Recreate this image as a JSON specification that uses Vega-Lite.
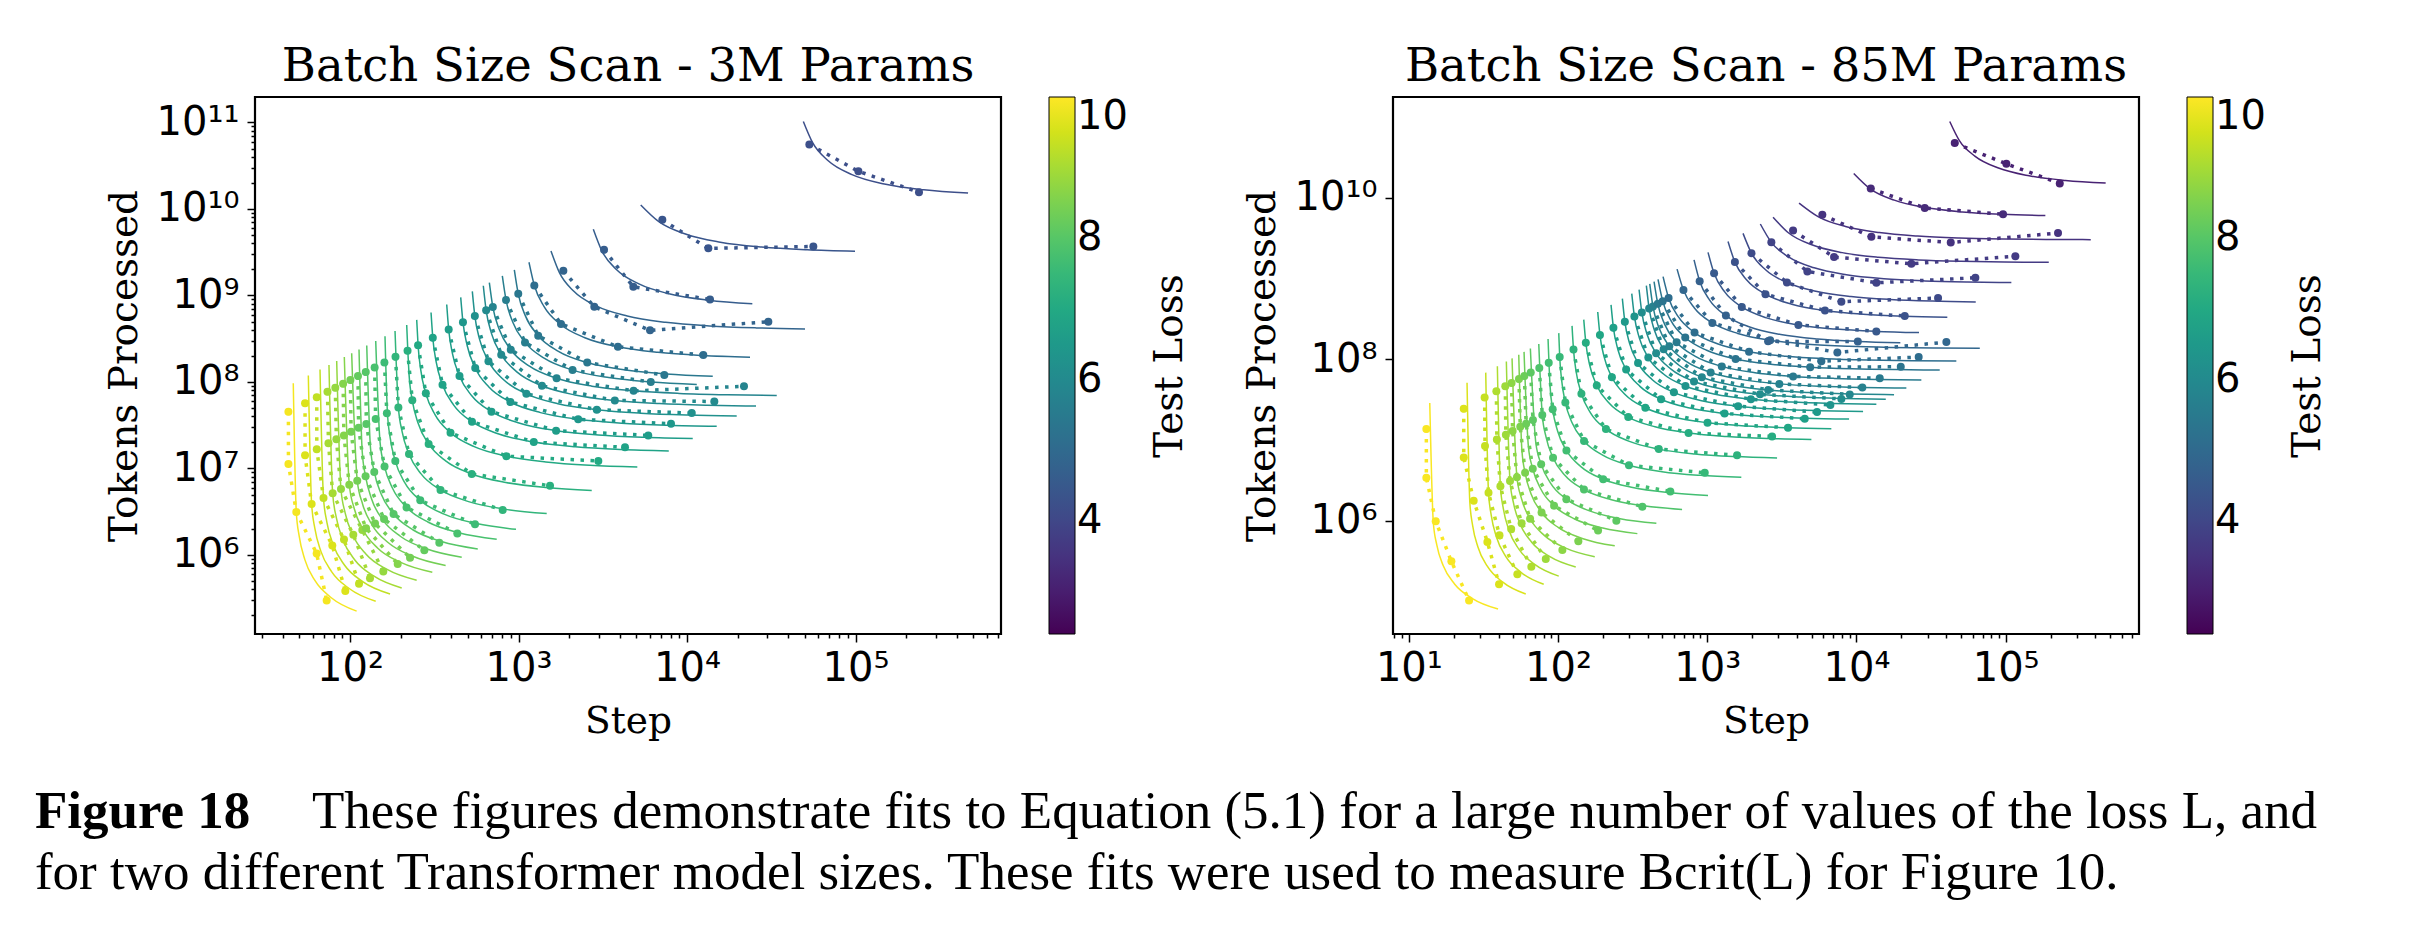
{
 "$schema": "https://vega.github.io/schema/vega-lite/v6.json",
 "background": "white",
 "padding": {"left": 34, "top": 42, "right": 10, "bottom": 10},
 "config": {
  "view": {"stroke": "black", "strokeWidth": 2.2},
  "title": {"font": "DejaVu Serif", "fontSize": 46.5, "fontWeight": "normal", "color": "black", "offset": 7},
  "axis": {"labelFont": "DejaVu Sans", "labelFontSize": 40, "labelColor": "black", "titleFont": "DejaVu Serif", "titleFontSize": 37.5, "titleFontWeight": "normal", "titleColor": "black", "grid": false, "domain": false, "tickColor": "black", "tickWidth": 1.5, "labelOverlap": false, "labelFlush": false, "labelBound": false},
  "legend": {"orient": "none", "legendX": 794, "legendY": 0, "direction": "vertical", "gradientLength": 537, "gradientThickness": 26, "gradientStrokeColor": "black", "gradientStrokeWidth": 1, "labelFont": "DejaVu Sans", "labelFontSize": 40, "labelColor": "black", "labelOffset": 16, "labelBaseline": "middle"}
 },
 "datasets": {
  "fitL": [
   {"k":1,"l":9.9,"s":46.06,"e":9.66e7},{"k":1,"l":9.9,"s":47.99,"e":3.145e6},{"k":1,"l":9.9,"s":49.97,"e":1.637e6},{"k":1,"l":9.9,"s":53.94,"e":8.84e5},{"k":1,"l":9.9,"s":61.88,"e":5.07e5},{"k":1,"l":9.9,"s":77.76,"e":3.185e5},{"k":1,"l":9.9,"s":109.5,"e":2.243e5},
   {"k":2,"l":9.6,"s":56.58,"e":1.187e8},{"k":2,"l":9.6,"s":59.18,"e":3.878e6},{"k":2,"l":9.6,"s":61.85,"e":2.027e6},{"k":2,"l":9.6,"s":67.2,"e":1.101e6},{"k":2,"l":9.6,"s":77.91,"e":6.382e5},{"k":2,"l":9.6,"s":99.32,"e":4.068e5},{"k":2,"l":9.6,"s":142.1,"e":2.911e5},
   {"k":3,"l":9.3,"s":66.37,"e":1.392e8},{"k":3,"l":9.3,"s":69.6,"e":4.561e6},{"k":3,"l":9.3,"s":72.92,"e":2.389e6},{"k":3,"l":9.3,"s":79.58,"e":1.304e6},{"k":3,"l":9.3,"s":92.89,"e":7.61e5},{"k":3,"l":9.3,"s":119.5,"e":4.895e5},{"k":3,"l":9.3,"s":172.8,"e":3.539e5},
   {"k":4,"l":9.0,"s":75.02,"e":1.573e8},{"k":4,"l":9.0,"s":78.89,"e":5.17e6},{"k":4,"l":9.0,"s":82.88,"e":2.716e6},{"k":4,"l":9.0,"s":90.87,"e":1.489e6},{"k":4,"l":9.0,"s":106.8,"e":8.751e5},{"k":4,"l":9.0,"s":138.8,"e":5.684e5},{"k":4,"l":9.0,"s":202.7,"e":4.151e5},
   {"k":5,"l":8.8,"s":83.36,"e":1.748e8},{"k":5,"l":8.8,"s":88.37,"e":5.792e6},{"k":5,"l":8.8,"s":93.55,"e":3.065e6},{"k":5,"l":8.8,"s":103.9,"e":1.702e6},{"k":5,"l":8.8,"s":124.6,"e":1.021e6},{"k":5,"l":8.8,"s":166,"e":6.799e5},{"k":5,"l":8.8,"s":248.7,"e":5.093e5},
   {"k":6,"l":8.6,"s":92.51,"e":1.94e8},{"k":6,"l":8.6,"s":99.04,"e":6.491e6},{"k":6,"l":8.6,"s":105.8,"e":3.467e6},{"k":6,"l":8.6,"s":119.3,"e":1.955e6},{"k":6,"l":8.6,"s":146.2,"e":1.198e6},{"k":6,"l":8.6,"s":200.1,"e":8.196e5},{"k":6,"l":8.6,"s":307.9,"e":6.306e5},
   {"k":7,"l":8.4,"s":102.3,"e":2.145e8},{"k":7,"l":8.4,"s":110.4,"e":7.235e6},{"k":7,"l":8.4,"s":118.7,"e":3.89e6},{"k":7,"l":8.4,"s":135.4,"e":2.218e6},{"k":7,"l":8.4,"s":168.9,"e":1.384e6},{"k":7,"l":8.4,"s":235.7,"e":9.654e5},{"k":7,"l":8.4,"s":369.4,"e":7.565e5},
   {"k":8,"l":8.2,"s":113.1,"e":2.372e8},{"k":8,"l":8.2,"s":118.2,"e":1.549e7},{"k":8,"l":8.2,"s":123.7,"e":8.107e6},{"k":8,"l":8.2,"s":134.5,"e":4.407e6},{"k":8,"l":8.2,"s":156.2,"e":2.559e6},{"k":8,"l":8.2,"s":199.7,"e":1.636e6},{"k":8,"l":8.2,"s":286.6,"e":1.174e6},{"k":8,"l":8.2,"s":460.3,"e":9.427e5},
   {"k":9,"l":8.0,"s":125.7,"e":2.636e8},{"k":9,"l":8.0,"s":132.3,"e":1.734e7},{"k":9,"l":8.0,"s":139.3,"e":9.129e6},{"k":9,"l":8.0,"s":153.3,"e":5.023e6},{"k":9,"l":8.0,"s":181.3,"e":2.97e6},{"k":9,"l":8.0,"s":237.3,"e":1.944e6},{"k":9,"l":8.0,"s":349.2,"e":1.43e6},{"k":9,"l":8.0,"s":573.1,"e":1.174e6},
   {"k":10,"l":7.8,"s":142.1,"e":2.98e8},{"k":10,"l":7.8,"s":150.9,"e":1.978e7},{"k":10,"l":7.8,"s":160.3,"e":1.051e7},{"k":10,"l":7.8,"s":179.1,"e":5.869e6},{"k":10,"l":7.8,"s":216.6,"e":3.549e6},{"k":10,"l":7.8,"s":291.7,"e":2.39e6},{"k":10,"l":7.8,"s":441.9,"e":1.81e6},{"k":10,"l":7.8,"s":742.4,"e":1.52e6},
   {"k":11,"l":7.6,"s":161.3,"e":3.383e8},{"k":11,"l":7.6,"s":166.8,"e":4.373e7},{"k":11,"l":7.6,"s":173.1,"e":2.269e7},{"k":11,"l":7.6,"s":185.7,"e":1.217e7},{"k":11,"l":7.6,"s":210.9,"e":6.911e6},{"k":11,"l":7.6,"s":261.2,"e":4.279e6},{"k":11,"l":7.6,"s":361.9,"e":2.965e6},{"k":11,"l":7.6,"s":563.3,"e":2.307e6},{"k":11,"l":7.6,"s":966.1,"e":1.979e6},
   {"k":12,"l":7.4,"s":185,"e":3.88e8},{"k":12,"l":7.4,"s":193.7,"e":5.078e7},{"k":12,"l":7.4,"s":203.8,"e":2.671e7},{"k":12,"l":7.4,"s":223.9,"e":1.467e7},{"k":12,"l":7.4,"s":264.1,"e":8.654e6},{"k":12,"l":7.4,"s":344.5,"e":5.645e6},{"k":12,"l":7.4,"s":505.4,"e":4.14e6},{"k":12,"l":7.4,"s":827.1,"e":3.388e6},{"k":12,"l":7.4,"s":1470,"e":3.011e6},
   {"k":13,"l":7.2,"s":217,"e":4.551e8},{"k":13,"l":7.2,"s":224.4,"e":1.177e8},{"k":13,"l":7.2,"s":234.2,"e":6.139e7},{"k":13,"l":7.2,"s":253.7,"e":3.325e7},{"k":13,"l":7.2,"s":292.9,"e":1.92e7},{"k":13,"l":7.2,"s":371.2,"e":1.216e7},{"k":13,"l":7.2,"s":527.7,"e":8.646e6},{"k":13,"l":7.2,"s":840.8,"e":6.888e6},{"k":13,"l":7.2,"s":1467,"e":6.009e6},{"k":13,"l":7.2,"s":2720,"e":5.57e6},
   {"k":14,"l":7.0,"s":248.8,"e":5.218e8},{"k":14,"l":7.0,"s":253.5,"e":2.658e8},{"k":14,"l":7.0,"s":262.9,"e":1.378e8},{"k":14,"l":7.0,"s":281.8,"e":7.387e7},{"k":14,"l":7.0,"s":319.5,"e":4.188e7},{"k":14,"l":7.0,"s":394.9,"e":2.588e7},{"k":14,"l":7.0,"s":545.8,"e":1.788e7},{"k":14,"l":7.0,"s":847.4,"e":1.388e7},{"k":14,"l":7.0,"s":1451,"e":1.189e7},{"k":14,"l":7.0,"s":2657,"e":1.088e7},{"k":14,"l":7.0,"s":5071,"e":1.039e7},
   {"k":15,"l":6.8,"s":302.6,"e":6.346e8},{"k":15,"l":6.8,"s":309.9,"e":3.25e8},{"k":15,"l":6.8,"s":324.6,"e":1.702e8},{"k":15,"l":6.8,"s":353.9,"e":9.277e7},{"k":15,"l":6.8,"s":412.5,"e":5.407e7},{"k":15,"l":6.8,"s":529.6,"e":3.471e7},{"k":15,"l":6.8,"s":763.9,"e":2.503e7},{"k":15,"l":6.8,"s":1232,"e":2.019e7},{"k":15,"l":6.8,"s":2170,"e":1.778e7},{"k":15,"l":6.8,"s":4044,"e":1.656e7},{"k":15,"l":6.8,"s":7793,"e":1.596e7},
   {"k":16,"l":6.6,"s":374.9,"e":7.862e8},{"k":16,"l":6.6,"s":385.1,"e":4.038e8},{"k":16,"l":6.6,"s":405.5,"e":2.126e8},{"k":16,"l":6.6,"s":446.3,"e":1.17e8},{"k":16,"l":6.6,"s":528,"e":6.921e7},{"k":16,"l":6.6,"s":691.2,"e":4.53e7},{"k":16,"l":6.6,"s":1018,"e":3.335e7},{"k":16,"l":6.6,"s":1671,"e":2.737e7},{"k":16,"l":6.6,"s":2977,"e":2.438e7},{"k":16,"l":6.6,"s":5589,"e":2.289e7},{"k":16,"l":6.6,"s":10812,"e":2.214e7},
   {"k":17,"l":6.4,"s":453.9,"e":9.519e8},{"k":17,"l":6.4,"s":468.1,"e":4.909e8},{"k":17,"l":6.4,"s":496.6,"e":2.604e8},{"k":17,"l":6.4,"s":553.5,"e":1.451e8},{"k":17,"l":6.4,"s":667.2,"e":8.745e7},{"k":17,"l":6.4,"s":894.8,"e":5.864e7},{"k":17,"l":6.4,"s":1350,"e":4.423e7},{"k":17,"l":6.4,"s":2260,"e":3.703e7},{"k":17,"l":6.4,"s":4080,"e":3.343e7},{"k":17,"l":6.4,"s":7721,"e":3.163e7},{"k":17,"l":6.4,"s":15003,"e":3.073e7},
   {"k":18,"l":6.2,"s":531.9,"e":1.115e9},{"k":18,"l":6.2,"s":550.6,"e":5.774e8},{"k":18,"l":6.2,"s":588.1,"e":3.083e8},{"k":18,"l":6.2,"s":663.2,"e":1.738e8},{"k":18,"l":6.2,"s":813.3,"e":1.066e8},{"k":18,"l":6.2,"s":1113,"e":7.296e7},{"k":18,"l":6.2,"s":1714,"e":5.615e7},{"k":18,"l":6.2,"s":2914,"e":4.775e7},{"k":18,"l":6.2,"s":5315,"e":4.354e7},{"k":18,"l":6.2,"s":10117,"e":4.144e7},{"k":18,"l":6.2,"s":19722,"e":4.039e7},
   {"k":19,"l":6.0,"s":618.1,"e":1.296e9},{"k":19,"l":6.0,"s":642.6,"e":6.738e8},{"k":19,"l":6.0,"s":691.6,"e":3.626e8},{"k":19,"l":6.0,"s":789.6,"e":2.07e8},{"k":19,"l":6.0,"s":985.5,"e":1.292e8},{"k":19,"l":6.0,"s":1377,"e":9.028e7},{"k":19,"l":6.0,"s":2161,"e":7.083e7},{"k":19,"l":6.0,"s":3729,"e":6.109e7},{"k":19,"l":6.0,"s":6864,"e":5.623e7},{"k":19,"l":6.0,"s":13135,"e":5.38e7},{"k":19,"l":6.0,"s":25677,"e":5.259e7},
   {"k":20,"l":5.8,"s":671.2,"e":1.408e9},{"k":20,"l":5.8,"s":703.8,"e":7.38e8},{"k":20,"l":5.8,"s":769.1,"e":4.032e8},{"k":20,"l":5.8,"s":899.7,"e":2.359e8},{"k":20,"l":5.8,"s":1161,"e":1.522e8},{"k":20,"l":5.8,"s":1683,"e":1.103e8},{"k":20,"l":5.8,"s":2728,"e":8.939e7},{"k":20,"l":5.8,"s":4818,"e":7.894e7},{"k":20,"l":5.8,"s":8998,"e":7.371e7},{"k":20,"l":5.8,"s":17357,"e":7.109e7},{"k":20,"l":5.8,"s":34076,"e":6.979e7},
   {"k":21,"l":5.6,"s":801.5,"e":1.681e9},{"k":21,"l":5.6,"s":843.3,"e":8.843e8},{"k":21,"l":5.6,"s":926.6,"e":4.858e8},{"k":21,"l":5.6,"s":1093,"e":2.866e8},{"k":21,"l":5.6,"s":1427,"e":1.87e8},{"k":21,"l":5.6,"s":2093,"e":1.372e8},{"k":21,"l":5.6,"s":3427,"e":1.123e8},{"k":21,"l":5.6,"s":6094,"e":9.984e7},{"k":21,"l":5.6,"s":11427,"e":9.361e7},
   {"k":22,"l":5.4,"s":944.4,"e":1.981e9},{"k":22,"l":5.4,"s":996.5,"e":1.045e9},{"k":22,"l":5.4,"s":1100.5,"e":5.77e8},{"k":22,"l":5.4,"s":1308.7,"e":3.431e8},{"k":22,"l":5.4,"s":1725,"e":2.261e8},{"k":22,"l":5.4,"s":2557.6,"e":1.676e8},{"k":22,"l":5.4,"s":4223,"e":1.384e8},{"k":22,"l":5.4,"s":7553,"e":1.237e8},{"k":22,"l":5.4,"s":14214,"e":1.164e8},
   {"k":23,"l":5.1,"s":1154,"e":2.42e9},{"k":23,"l":5.1,"s":1242,"e":1.302e9},{"k":23,"l":5.1,"s":1418.6,"e":7.437e8},{"k":23,"l":5.1,"s":1771,"e":4.643e8},{"k":23,"l":5.1,"s":2477,"e":3.247e8},{"k":23,"l":5.1,"s":3888,"e":2.548e8},{"k":23,"l":5.1,"s":6711,"e":2.199e8},{"k":23,"l":5.1,"s":12356,"e":2.024e8},{"k":23,"l":5.1,"s":23647,"e":1.937e8},
   {"k":24,"l":4.8,"s":1558.5,"e":3.268e9},{"k":24,"l":4.8,"s":1749,"e":1.834e9},{"k":24,"l":4.8,"s":2130,"e":1.117e9},{"k":24,"l":4.8,"s":2892,"e":7.581e8},{"k":24,"l":4.8,"s":4416,"e":5.788e8},{"k":24,"l":4.8,"s":7464,"e":4.892e8},{"k":24,"l":4.8,"s":13561,"e":4.444e8},{"k":24,"l":4.8,"s":25753,"e":4.219e8},{"k":24,"l":4.8,"s":50139,"e":4.107e8},
   {"k":25,"l":4.6,"s":2779,"e":5.828e9},{"k":25,"l":4.6,"s":3123,"e":3.275e9},{"k":25,"l":4.6,"s":3809,"e":1.997e9},{"k":25,"l":4.6,"s":5183,"e":1.359e9},{"k":25,"l":4.6,"s":7930,"e":1.039e9},{"k":25,"l":4.6,"s":13423,"e":8.797e8},{"k":25,"l":4.6,"s":24410,"e":7.999e8},
   {"k":26,"l":4.4,"s":5312,"e":1.114e10},{"k":26,"l":4.4,"s":6805,"e":7.135e9},{"k":26,"l":4.4,"s":9790,"e":5.133e9},{"k":26,"l":4.4,"s":15760,"e":4.131e9},{"k":26,"l":4.4,"s":27700,"e":3.631e9},{"k":26,"l":4.4,"s":51580,"e":3.38e9},{"k":26,"l":4.4,"s":99340,"e":3.255e9},
   {"k":27,"l":4.2,"s":49000,"e":1.028e11},{"k":27,"l":4.2,"s":55630,"e":5.833e10},{"k":27,"l":4.2,"s":68850,"e":3.61e10},{"k":27,"l":4.2,"s":95300,"e":2.498e10},{"k":27,"l":4.2,"s":148200,"e":1.942e10},{"k":27,"l":4.2,"s":254000,"e":1.665e10},{"k":27,"l":4.2,"s":465500,"e":1.525e10}
  ],
  "ptsL": [
   {"k":1,"l":9.9,"s":43.1,"e":4.52e7},{"k":1,"l":9.9,"s":43.1,"e":1.13e7},{"k":1,"l":9.9,"s":48,"e":3.146e6},{"k":1,"l":9.9,"s":63.4,"e":1.039e6},{"k":1,"l":9.9,"s":72.7,"e":2.978e5},
   {"k":2,"l":9.6,"s":54.1,"e":5.673e7},{"k":2,"l":9.6,"s":54.1,"e":1.418e7},{"k":2,"l":9.6,"s":59.18,"e":3.878e6},{"k":2,"l":9.6,"s":78.5,"e":1.286e6},{"k":2,"l":9.6,"s":93.8,"e":3.842e5},
   {"k":3,"l":9.3,"s":63.5,"e":6.658e7},{"k":3,"l":9.3,"s":63.5,"e":1.665e7},{"k":3,"l":9.3,"s":69.6,"e":4.561e6},{"k":3,"l":9.3,"s":92.1,"e":1.509e6},{"k":3,"l":9.3,"s":113.1,"e":4.633e5},
   {"k":4,"l":9.0,"s":73.5,"e":7.707e7},{"k":4,"l":9.0,"s":74.5,"e":1.953e7},{"k":4,"l":9.0,"s":78.89,"e":5.17e6},{"k":4,"l":9.0,"s":104.6,"e":1.714e6},{"k":4,"l":9.0,"s":131.4,"e":5.382e5},
   {"k":5,"l":8.8,"s":81.8,"e":8.577e7},{"k":5,"l":8.8,"s":83,"e":2.176e7},{"k":5,"l":8.8,"s":88.4,"e":5.793e6},{"k":5,"l":8.8,"s":118.3,"e":1.938e6},{"k":5,"l":8.8,"s":157.6,"e":6.455e5},
   {"k":6,"l":8.6,"s":91,"e":9.542e7},{"k":6,"l":8.6,"s":92,"e":2.412e7},{"k":6,"l":8.6,"s":99,"e":6.488e6},{"k":6,"l":8.6,"s":124.5,"e":2.04e6},{"k":6,"l":8.6,"s":191.9,"e":7.86e5},
   {"k":7,"l":8.4,"s":100.5,"e":1.054e8},{"k":7,"l":8.4,"s":101.5,"e":2.661e7},{"k":7,"l":8.4,"s":110.4,"e":7.235e6},{"k":7,"l":8.4,"s":140.7,"e":2.305e6},{"k":7,"l":8.4,"s":227.1,"e":9.302e5},
   {"k":8,"l":8.2,"s":111.5,"e":1.169e8},{"k":8,"l":8.2,"s":112.5,"e":2.949e7},{"k":8,"l":8.2,"s":123.7,"e":8.107e6},{"k":8,"l":8.2,"s":159.2,"e":2.608e6},{"k":8,"l":8.2,"s":276.1,"e":1.131e6},
   {"k":9,"l":8.0,"s":124,"e":1.3e8},{"k":9,"l":8.0,"s":125,"e":3.277e7},{"k":9,"l":8.0,"s":139.3,"e":9.129e6},{"k":9,"l":8.0,"s":181.3,"e":2.97e6},{"k":9,"l":8.0,"s":338.8,"e":1.388e6},
   {"k":10,"l":7.8,"s":140,"e":1.468e8},{"k":10,"l":7.8,"s":142,"e":3.722e7},{"k":10,"l":7.8,"s":160.3,"e":1.051e7},{"k":10,"l":7.8,"s":216.6,"e":3.549e6},{"k":10,"l":7.8,"s":433.4,"e":1.775e6},
   {"k":11,"l":7.6,"s":160,"e":1.678e8},{"k":11,"l":7.6,"s":165.5,"e":4.338e7},{"k":11,"l":7.6,"s":185.7,"e":1.217e7},{"k":11,"l":7.6,"s":261.2,"e":4.279e6},{"k":11,"l":7.6,"s":551.9,"e":2.261e6},
   {"k":12,"l":7.4,"s":186.2,"e":1.952e8},{"k":12,"l":7.4,"s":193.7,"e":5.078e7},{"k":12,"l":7.4,"s":223.9,"e":1.467e7},{"k":12,"l":7.4,"s":344.5,"e":5.645e6},{"k":12,"l":7.4,"s":805.8,"e":3.301e6},
   {"k":13,"l":7.2,"s":219.5,"e":2.302e8},{"k":13,"l":7.2,"s":234.2,"e":6.139e7},{"k":13,"l":7.2,"s":292.9,"e":1.92e7},{"k":13,"l":7.2,"s":527.7,"e":8.646e6},{"k":13,"l":7.2,"s":1538,"e":6.3e6},
   {"k":14,"l":7.0,"s":253.5,"e":2.658e8},{"k":14,"l":7.0,"s":281.8,"e":7.387e7},{"k":14,"l":7.0,"s":394.9,"e":2.588e7},{"k":14,"l":7.0,"s":847.4,"e":1.388e7},{"k":14,"l":7.0,"s":2976,"e":1.219e7},
   {"k":15,"l":6.8,"s":309.9,"e":3.25e8},{"k":15,"l":6.8,"s":353.9,"e":9.277e7},{"k":15,"l":6.8,"s":529.6,"e":3.471e7},{"k":15,"l":6.8,"s":1232,"e":2.019e7},{"k":15,"l":6.8,"s":4285,"e":1.755e7},
   {"k":16,"l":6.6,"s":385.1,"e":4.038e8},{"k":16,"l":6.6,"s":446.3,"e":1.17e8},{"k":16,"l":6.6,"s":691.2,"e":4.53e7},{"k":16,"l":6.6,"s":1671,"e":2.737e7},{"k":16,"l":6.6,"s":5888,"e":2.412e7},
   {"k":17,"l":6.4,"s":468.1,"e":4.909e8},{"k":17,"l":6.4,"s":553.5,"e":1.451e8},{"k":17,"l":6.4,"s":894.8,"e":5.864e7},{"k":17,"l":6.4,"s":2260,"e":3.703e7},{"k":17,"l":6.4,"s":8035,"e":3.291e7},
   {"k":18,"l":6.2,"s":550.6,"e":5.774e8},{"k":18,"l":6.2,"s":663.2,"e":1.738e8},{"k":18,"l":6.2,"s":1113,"e":7.296e7},{"k":18,"l":6.2,"s":2914,"e":4.775e7},{"k":18,"l":6.2,"s":10666,"e":4.369e7},
   {"k":19,"l":6.0,"s":642.6,"e":6.738e8},{"k":19,"l":6.0,"s":789.6,"e":2.07e8},{"k":19,"l":6.0,"s":1377,"e":9.028e7},{"k":19,"l":6.0,"s":3729,"e":6.109e7},{"k":19,"l":6.0,"s":14520,"e":5.947e7},
   {"k":20,"l":5.8,"s":703.8,"e":7.38e8},{"k":20,"l":5.8,"s":899.7,"e":2.359e8},{"k":20,"l":5.8,"s":1683,"e":1.103e8},{"k":20,"l":5.8,"s":4818,"e":7.894e7},{"k":20,"l":5.8,"s":21780,"e":8.921e7},
   {"k":21,"l":5.6,"s":843.3,"e":8.843e8},{"k":21,"l":5.6,"s":1093,"e":2.866e8},{"k":21,"l":5.6,"s":2093,"e":1.372e8},{"k":21,"l":5.6,"s":6094,"e":9.984e7},
   {"k":22,"l":5.4,"s":996.5,"e":1.045e9},{"k":22,"l":5.4,"s":1308.7,"e":3.431e8},{"k":22,"l":5.4,"s":2557.6,"e":1.676e8},{"k":22,"l":5.4,"s":7334,"e":1.202e8},
   {"k":23,"l":5.1,"s":1241,"e":1.301e9},{"k":23,"l":5.1,"s":1787,"e":4.684e8},{"k":23,"l":5.1,"s":3888,"e":2.548e8},{"k":23,"l":5.1,"s":12490,"e":2.046e8},
   {"k":24,"l":4.8,"s":1845,"e":1.935e9},{"k":24,"l":4.8,"s":2817,"e":7.385e8},{"k":24,"l":4.8,"s":6033,"e":3.954e8},{"k":24,"l":4.8,"s":30380,"e":4.977e8},
   {"k":25,"l":4.6,"s":3217,"e":3.373e9},{"k":25,"l":4.6,"s":4801,"e":1.259e9},{"k":25,"l":4.6,"s":13690,"e":8.972e8},
   {"k":26,"l":4.4,"s":7136,"e":7.483e9},{"k":26,"l":4.4,"s":13380,"e":3.507e9},{"k":26,"l":4.4,"s":56180,"e":3.682e9},
   {"k":27,"l":4.2,"s":53200,"e":5.58e10},{"k":27,"l":4.2,"s":104000,"e":2.726e10},{"k":27,"l":4.2,"s":238000,"e":1.56e10}
  ],
  "fitR": [
   {"k":1,"l":9.95,"s":13.81,"e":2.896e7},{"k":1,"l":9.95,"s":14.59,"e":9.56e5},{"k":1,"l":9.95,"s":15.39,"e":5.044e5},{"k":1,"l":9.95,"s":17.01,"e":2.787e5},{"k":1,"l":9.95,"s":20.24,"e":1.658e5},{"k":1,"l":9.95,"s":26.7,"e":1.094e5},{"k":1,"l":9.95,"s":39.62,"e":8.114e4},
   {"k":2,"l":9.6,"s":24.55,"e":5.148e7},{"k":2,"l":9.6,"s":25.64,"e":1.68e6},{"k":2,"l":9.6,"s":26.77,"e":8.772e5},{"k":2,"l":9.6,"s":29.04,"e":4.758e5},{"k":2,"l":9.6,"s":33.56,"e":2.749e5},{"k":2,"l":9.6,"s":42.62,"e":1.746e5},{"k":2,"l":9.6,"s":60.72,"e":1.244e5},
   {"k":3,"l":9.35,"s":32.76,"e":6.87e7},{"k":3,"l":9.35,"s":34.19,"e":2.241e6},{"k":3,"l":9.35,"s":35.67,"e":1.169e6},{"k":3,"l":9.35,"s":38.64,"e":6.331e5},{"k":3,"l":9.35,"s":44.57,"e":3.651e5},{"k":3,"l":9.35,"s":56.43,"e":2.311e5},{"k":3,"l":9.35,"s":80.15,"e":1.641e5},
   {"k":4,"l":9.1,"s":39.2,"e":8.221e7},{"k":4,"l":9.1,"s":41.08,"e":2.692e6},{"k":4,"l":9.1,"s":43.01,"e":1.409e6},{"k":4,"l":9.1,"s":46.89,"e":7.682e5},{"k":4,"l":9.1,"s":54.63,"e":4.475e5},{"k":4,"l":9.1,"s":70.12,"e":2.872e5},{"k":4,"l":9.1,"s":101.1,"e":2.071e5},
   {"k":5,"l":8.9,"s":45.03,"e":9.443e7},{"k":5,"l":8.9,"s":47.65,"e":3.123e6},{"k":5,"l":8.9,"s":50.35,"e":1.65e6},{"k":5,"l":8.9,"s":55.76,"e":9.135e5},{"k":5,"l":8.9,"s":66.56,"e":5.453e5},{"k":5,"l":8.9,"s":88.18,"e":3.612e5},{"k":5,"l":8.9,"s":131.4,"e":2.691e5},
   {"k":6,"l":8.7,"s":49.17,"e":1.031e8},{"k":6,"l":8.7,"s":53.02,"e":3.475e6},{"k":6,"l":8.7,"s":57,"e":1.868e6},{"k":6,"l":8.7,"s":64.95,"e":1.064e6},{"k":6,"l":8.7,"s":80.84,"e":6.622e5},{"k":6,"l":8.7,"s":112.6,"e":4.613e5},{"k":6,"l":8.7,"s":176.2,"e":3.609e5},
   {"k":7,"l":8.5,"s":54.53,"e":1.144e8},{"k":7,"l":8.5,"s":57.25,"e":7.504e6},{"k":7,"l":8.5,"s":60.15,"e":3.942e6},{"k":7,"l":8.5,"s":65.95,"e":2.161e6},{"k":7,"l":8.5,"s":77.55,"e":1.271e6},{"k":7,"l":8.5,"s":100.7,"e":8.253e5},{"k":7,"l":8.5,"s":147.1,"e":6.027e5},{"k":7,"l":8.5,"s":239.9,"e":4.914e5},
   {"k":8,"l":8.3,"s":59.17,"e":1.241e8},{"k":8,"l":8.3,"s":63.29,"e":8.295e6},{"k":8,"l":8.3,"s":67.69,"e":4.436e6},{"k":8,"l":8.3,"s":76.47,"e":2.506e6},{"k":8,"l":8.3,"s":94.05,"e":1.541e6},{"k":8,"l":8.3,"s":129.2,"e":1.058e6},{"k":8,"l":8.3,"s":199.5,"e":8.171e5},{"k":8,"l":8.3,"s":340.1,"e":6.965e5},
   {"k":9,"l":8.1,"s":65.23,"e":1.368e8},{"k":9,"l":8.1,"s":70.96,"e":9.301e6},{"k":9,"l":8.1,"s":77.07,"e":5.051e6},{"k":9,"l":8.1,"s":89.29,"e":2.926e6},{"k":9,"l":8.1,"s":113.7,"e":1.863e6},{"k":9,"l":8.1,"s":162.6,"e":1.332e6},{"k":9,"l":8.1,"s":260.4,"e":1.067e6},{"k":9,"l":8.1,"s":455.9,"e":9.337e5},
   {"k":10,"l":7.9,"s":74.27,"e":1.558e8},{"k":10,"l":7.9,"s":78.4,"e":2.055e7},{"k":10,"l":7.9,"s":83.12,"e":1.089e7},{"k":10,"l":7.9,"s":92.56,"e":6.066e6},{"k":10,"l":7.9,"s":111.5,"e":3.653e6},{"k":10,"l":7.9,"s":149.2,"e":2.445e6},{"k":10,"l":7.9,"s":224.8,"e":1.842e6},{"k":10,"l":7.9,"s":375.9,"e":1.54e6},{"k":10,"l":7.9,"s":678.1,"e":1.389e6},
   {"k":11,"l":7.7,"s":85.71,"e":1.797e8},{"k":11,"l":7.7,"s":88.42,"e":4.636e7},{"k":11,"l":7.7,"s":92.04,"e":2.413e7},{"k":11,"l":7.7,"s":99.29,"e":1.301e7},{"k":11,"l":7.7,"s":113.8,"e":7.458e6},{"k":11,"l":7.7,"s":142.8,"e":4.679e6},{"k":11,"l":7.7,"s":200.7,"e":3.288e6},{"k":11,"l":7.7,"s":316.7,"e":2.594e6},{"k":11,"l":7.7,"s":548.6,"e":2.247e6},{"k":11,"l":7.7,"s":1012,"e":2.073e6},
   {"k":12,"l":7.5,"s":101.1,"e":2.12e8},{"k":12,"l":7.5,"s":102.6,"e":1.076e8},{"k":12,"l":7.5,"s":105.7,"e":5.542e7},{"k":12,"l":7.5,"s":111.9,"e":2.933e7},{"k":12,"l":7.5,"s":124.4,"e":1.631e7},{"k":12,"l":7.5,"s":149.3,"e":9.785e6},{"k":12,"l":7.5,"s":199.1,"e":6.524e6},{"k":12,"l":7.5,"s":298.6,"e":4.892e6},{"k":12,"l":7.5,"s":497.8,"e":4.078e6},{"k":12,"l":7.5,"s":896,"e":3.67e6},{"k":12,"l":7.5,"s":1692,"e":3.466e6},
   {"k":13,"l":7.3,"s":124.1,"e":2.603e8},{"k":13,"l":7.3,"s":126.9,"e":1.331e8},{"k":13,"l":7.3,"s":132.4,"e":6.942e7},{"k":13,"l":7.3,"s":143.4,"e":3.759e7},{"k":13,"l":7.3,"s":165.4,"e":2.168e7},{"k":13,"l":7.3,"s":209.4,"e":1.372e7},{"k":13,"l":7.3,"s":297.4,"e":9.745e6},{"k":13,"l":7.3,"s":473.4,"e":7.756e6},{"k":13,"l":7.3,"s":825.3,"e":6.761e6},{"k":13,"l":7.3,"s":1529,"e":6.263e6},{"k":13,"l":7.3,"s":2937,"e":6.015e6},
   {"k":14,"l":7.1,"s":148.7,"e":3.118e8},{"k":14,"l":7.1,"s":153.5,"e":1.61e8},{"k":14,"l":7.1,"s":162.9,"e":8.541e7},{"k":14,"l":7.1,"s":181.8,"e":4.766e7},{"k":14,"l":7.1,"s":219.7,"e":2.88e7},{"k":14,"l":7.1,"s":295.4,"e":1.936e7},{"k":14,"l":7.1,"s":446.8,"e":1.464e7},{"k":14,"l":7.1,"s":749.6,"e":1.228e7},{"k":14,"l":7.1,"s":1355,"e":1.11e7},{"k":14,"l":7.1,"s":2566,"e":1.051e7},{"k":14,"l":7.1,"s":4989,"e":1.022e7},
   {"k":15,"l":6.9,"s":184.5,"e":3.869e8},{"k":15,"l":6.9,"s":190.9,"e":2.002e8},{"k":15,"l":6.9,"s":203.8,"e":1.068e8},{"k":15,"l":6.9,"s":229.6,"e":6.019e7},{"k":15,"l":6.9,"s":281.3,"e":3.687e7},{"k":15,"l":6.9,"s":384.6,"e":2.521e7},{"k":15,"l":6.9,"s":591.1,"e":1.937e7},{"k":15,"l":6.9,"s":1004,"e":1.645e7},{"k":15,"l":6.9,"s":1830,"e":1.499e7},{"k":15,"l":6.9,"s":3483,"e":1.427e7},{"k":15,"l":6.9,"s":6788,"e":1.39e7},
   {"k":16,"l":6.7,"s":226.5,"e":4.75e8},{"k":16,"l":6.7,"s":235,"e":2.464e8},{"k":16,"l":6.7,"s":252,"e":1.321e8},{"k":16,"l":6.7,"s":286,"e":7.497e7},{"k":16,"l":6.7,"s":354,"e":4.64e7},{"k":16,"l":6.7,"s":490.1,"e":3.212e7},{"k":16,"l":6.7,"s":762.2,"e":2.498e7},{"k":16,"l":6.7,"s":1306,"e":2.14e7},{"k":16,"l":6.7,"s":2395,"e":1.962e7},{"k":16,"l":6.7,"s":4571,"e":1.872e7},{"k":16,"l":6.7,"s":8924,"e":1.828e7},
   {"k":17,"l":6.5,"s":269.8,"e":5.658e8},{"k":17,"l":6.5,"s":280.3,"e":2.939e8},{"k":17,"l":6.5,"s":301.5,"e":1.581e8},{"k":17,"l":6.5,"s":343.7,"e":9.01e7},{"k":17,"l":6.5,"s":428.2,"e":5.613e7},{"k":17,"l":6.5,"s":597.2,"e":3.914e7},{"k":17,"l":6.5,"s":935.3,"e":3.065e7},{"k":17,"l":6.5,"s":1611,"e":2.64e7},{"k":17,"l":6.5,"s":2963,"e":2.427e7},{"k":17,"l":6.5,"s":5668,"e":2.322e7},{"k":17,"l":6.5,"s":11076,"e":2.268e7},
   {"k":18,"l":6.3,"s":311.9,"e":6.541e8},{"k":18,"l":6.3,"s":324.9,"e":3.407e8},{"k":18,"l":6.3,"s":350.8,"e":1.839e8},{"k":18,"l":6.3,"s":402.8,"e":1.056e8},{"k":18,"l":6.3,"s":506.7,"e":6.641e7},{"k":18,"l":6.3,"s":714.5,"e":4.683e7},{"k":18,"l":6.3,"s":1130,"e":3.703e7},{"k":18,"l":6.3,"s":1961,"e":3.213e7},{"k":18,"l":6.3,"s":3624,"e":2.969e7},{"k":18,"l":6.3,"s":6948,"e":2.846e7},{"k":18,"l":6.3,"s":13598,"e":2.785e7},
   {"k":19,"l":6.1,"s":349.2,"e":7.323e8},{"k":19,"l":6.1,"s":364.3,"e":3.82e8},{"k":19,"l":6.1,"s":394.3,"e":2.067e8},{"k":19,"l":6.1,"s":454.4,"e":1.191e8},{"k":19,"l":6.1,"s":574.7,"e":7.533e7},{"k":19,"l":6.1,"s":815.2,"e":5.342e7},{"k":19,"l":6.1,"s":1296,"e":4.247e7},{"k":19,"l":6.1,"s":2258,"e":3.7e7},{"k":19,"l":6.1,"s":4182,"e":3.426e7},{"k":19,"l":6.1,"s":8030,"e":3.289e7},{"k":19,"l":6.1,"s":15726,"e":3.221e7},
   {"k":20,"l":5.9,"s":390.7,"e":8.193e8},{"k":20,"l":5.9,"s":407.7,"e":4.275e8},{"k":20,"l":5.9,"s":441.9,"e":2.317e8},{"k":20,"l":5.9,"s":510.3,"e":1.338e8},{"k":20,"l":5.9,"s":646.9,"e":8.479e7},{"k":20,"l":5.9,"s":920.2,"e":6.031e7},{"k":20,"l":5.9,"s":1467,"e":4.807e7},{"k":20,"l":5.9,"s":2560,"e":4.194e7},{"k":20,"l":5.9,"s":4746,"e":3.888e7},{"k":20,"l":5.9,"s":9119,"e":3.735e7},{"k":20,"l":5.9,"s":17864,"e":3.659e7},
   {"k":21,"l":5.7,"s":411.8,"e":8.636e8},{"k":21,"l":5.7,"s":432.5,"e":4.535e8},{"k":21,"l":5.7,"s":474,"e":2.485e8},{"k":21,"l":5.7,"s":556.8,"e":1.46e8},{"k":21,"l":5.7,"s":722.5,"e":9.47e7},{"k":21,"l":5.7,"s":1054,"e":6.907e7},{"k":21,"l":5.7,"s":1717,"e":5.626e7},{"k":21,"l":5.7,"s":3042,"e":4.984e7},{"k":21,"l":5.7,"s":5694,"e":4.664e7},{"k":21,"l":5.7,"s":10996,"e":4.504e7},{"k":21,"l":5.7,"s":21603,"e":4.424e7},
   {"k":22,"l":5.5,"s":440,"e":9.227e8},{"k":22,"l":5.5,"s":466.2,"e":4.888e8},{"k":22,"l":5.5,"s":518.5,"e":2.718e8},{"k":22,"l":5.5,"s":623.3,"e":1.634e8},{"k":22,"l":5.5,"s":832.7,"e":1.091e8},{"k":22,"l":5.5,"s":1252,"e":8.205e7},{"k":22,"l":5.5,"s":2089,"e":6.845e7},{"k":22,"l":5.5,"s":3765,"e":6.169e7},{"k":22,"l":5.5,"s":7117,"e":5.83e7},{"k":22,"l":5.5,"s":13820,"e":5.661e7},{"k":22,"l":5.5,"s":27226,"e":5.576e7},
   {"k":23,"l":5.3,"s":467.9,"e":9.812e8},{"k":23,"l":5.3,"s":502.8,"e":5.272e8},{"k":23,"l":5.3,"s":572.6,"e":3.002e8},{"k":23,"l":5.3,"s":712.1,"e":1.867e8},{"k":23,"l":5.3,"s":991.1,"e":1.299e8},{"k":23,"l":5.3,"s":1549,"e":1.015e8},{"k":23,"l":5.3,"s":2666,"e":8.736e7},{"k":23,"l":5.3,"s":4898,"e":8.025e7},{"k":23,"l":5.3,"s":9363,"e":7.67e7},{"k":23,"l":5.3,"s":18294,"e":7.493e7},{"k":23,"l":5.3,"s":36154,"e":7.404e7},
   {"k":24,"l":5.1,"s":505.6,"e":1.06e9},{"k":24,"l":5.1,"s":550.7,"e":5.775e8},{"k":24,"l":5.1,"s":641.1,"e":3.361e8},{"k":24,"l":5.1,"s":821.8,"e":2.154e8},{"k":24,"l":5.1,"s":1183,"e":1.551e8},{"k":24,"l":5.1,"s":1906,"e":1.249e8},{"k":24,"l":5.1,"s":3351,"e":1.098e8},{"k":24,"l":5.1,"s":6243,"e":1.023e8},{"k":24,"l":5.1,"s":12024,"e":9.85e7},{"k":24,"l":5.1,"s":23588,"e":9.662e7},{"k":24,"l":5.1,"s":46717,"e":9.568e7},
   {"k":25,"l":4.9,"s":627.7,"e":1.316e9},{"k":25,"l":4.9,"s":692.6,"e":7.263e8},{"k":25,"l":4.9,"s":822.6,"e":4.313e8},{"k":25,"l":4.9,"s":1082.5,"e":2.838e8},{"k":25,"l":4.9,"s":1602,"e":2.1e8},{"k":25,"l":4.9,"s":2642,"e":1.731e8},{"k":25,"l":4.9,"s":4721,"e":1.547e8},{"k":25,"l":4.9,"s":8880,"e":1.455e8},{"k":25,"l":4.9,"s":17197,"e":1.409e8},{"k":25,"l":4.9,"s":33831,"e":1.386e8},{"k":25,"l":4.9,"s":67102,"e":1.374e8},
   {"k":26,"l":4.7,"s":815.5,"e":1.71e9},{"k":26,"l":4.7,"s":889.5,"e":9.327e8},{"k":26,"l":4.7,"s":1037.5,"e":5.44e8},{"k":26,"l":4.7,"s":1333.5,"e":3.496e8},{"k":26,"l":4.7,"s":1925.5,"e":2.524e8},{"k":26,"l":4.7,"s":3110,"e":2.038e8},{"k":26,"l":4.7,"s":5478,"e":1.795e8},{"k":26,"l":4.7,"s":10214,"e":1.673e8},{"k":26,"l":4.7,"s":19686,"e":1.613e8},
   {"k":27,"l":4.5,"s":1012,"e":2.122e9},{"k":27,"l":4.5,"s":1111,"e":1.165e9},{"k":27,"l":4.5,"s":1309,"e":6.863e8},{"k":27,"l":4.5,"s":1705,"e":4.47e8},{"k":27,"l":4.5,"s":2497,"e":3.273e8},{"k":27,"l":4.5,"s":4082,"e":2.675e8},{"k":27,"l":4.5,"s":7250,"e":2.376e8},{"k":27,"l":4.5,"s":13587,"e":2.226e8},{"k":27,"l":4.5,"s":26261,"e":2.151e8},
   {"k":28,"l":4.3,"s":1378,"e":2.89e9},{"k":28,"l":4.3,"s":1532,"e":1.606e9},{"k":28,"l":4.3,"s":1840,"e":9.647e8},{"k":28,"l":4.3,"s":2456,"e":6.438e8},{"k":28,"l":4.3,"s":3688,"e":4.834e8},{"k":28,"l":4.3,"s":6152,"e":4.032e8},{"k":28,"l":4.3,"s":11081,"e":3.631e8},{"k":28,"l":4.3,"s":20938,"e":3.43e8},{"k":28,"l":4.3,"s":40652,"e":3.33e8},
   {"k":29,"l":4.1,"s":1737,"e":3.643e9},{"k":29,"l":4.1,"s":1978,"e":2.074e9},{"k":29,"l":4.1,"s":2459,"e":1.289e9},{"k":29,"l":4.1,"s":3420,"e":8.965e8},{"k":29,"l":4.1,"s":5343,"e":7.003e8},{"k":29,"l":4.1,"s":9189,"e":6.022e8},{"k":29,"l":4.1,"s":16881,"e":5.532e8},{"k":29,"l":4.1,"s":32265,"e":5.286e8},{"k":29,"l":4.1,"s":63033,"e":5.164e8},
   {"k":30,"l":3.9,"s":2269,"e":4.759e9},{"k":30,"l":3.9,"s":2689,"e":2.82e9},{"k":30,"l":3.9,"s":3527,"e":1.849e9},{"k":30,"l":3.9,"s":5205,"e":1.364e9},{"k":30,"l":3.9,"s":8560,"e":1.122e9},{"k":30,"l":3.9,"s":15269,"e":1.001e9},{"k":30,"l":3.9,"s":28688,"e":9.4e8},{"k":30,"l":3.9,"s":55527,"e":9.097e8},{"k":30,"l":3.9,"s":109206,"e":8.946e8},
   {"k":31,"l":3.7,"s":2761,"e":5.79e9},{"k":31,"l":3.7,"s":3513,"e":3.684e9},{"k":31,"l":3.7,"s":5017,"e":2.63e9},{"k":31,"l":3.7,"s":8025,"e":2.104e9},{"k":31,"l":3.7,"s":14041,"e":1.84e9},{"k":31,"l":3.7,"s":26073,"e":1.709e9},{"k":31,"l":3.7,"s":50139,"e":1.643e9},{"k":31,"l":3.7,"s":98268,"e":1.61e9},{"k":31,"l":3.7,"s":194527,"e":1.594e9},
   {"k":32,"l":3.5,"s":4124,"e":8.649e9},{"k":32,"l":3.5,"s":5566,"e":5.836e9},{"k":32,"l":3.5,"s":8450,"e":4.43e9},{"k":32,"l":3.5,"s":14219,"e":3.727e9},{"k":32,"l":3.5,"s":25756,"e":3.376e9},{"k":32,"l":3.5,"s":48829,"e":3.2e9},{"k":32,"l":3.5,"s":94973,"e":3.112e9},{"k":32,"l":3.5,"s":187265,"e":3.068e9},{"k":32,"l":3.5,"s":371845,"e":3.046e9},
   {"k":33,"l":3.3,"s":9592,"e":2.012e10},{"k":33,"l":3.3,"s":12369,"e":1.297e10},{"k":33,"l":3.3,"s":17924,"e":9.397e9},{"k":33,"l":3.3,"s":29033,"e":7.611e9},{"k":33,"l":3.3,"s":51249,"e":6.717e9},{"k":33,"l":3.3,"s":95682,"e":6.271e9},{"k":33,"l":3.3,"s":184550,"e":6.047e9},
   {"k":34,"l":3.1,"s":42200,"e":8.85e10},{"k":34,"l":3.1,"s":48960,"e":5.134e10},{"k":34,"l":3.1,"s":62480,"e":3.276e10},{"k":34,"l":3.1,"s":89520,"e":2.347e10},{"k":34,"l":3.1,"s":143600,"e":1.882e10},{"k":34,"l":3.1,"s":251800,"e":1.65e10},{"k":34,"l":3.1,"s":468100,"e":1.534e10}
  ],
  "ptsR": [
   {"k":1,"l":9.95,"s":13.1,"e":1.374e7},{"k":1,"l":9.95,"s":13.1,"e":3.434e6},{"k":1,"l":9.95,"s":15.14,"e":9.922e5},{"k":1,"l":9.95,"s":19.28,"e":3.159e5},{"k":1,"l":9.95,"s":25.33,"e":1.0375e5},
   {"k":2,"l":9.6,"s":23.33,"e":2.446e7},{"k":2,"l":9.6,"s":23.33,"e":6.116e6},{"k":2,"l":9.6,"s":27.2,"e":1.783e6},{"k":2,"l":9.6,"s":33.6,"e":5.505e5},{"k":2,"l":9.6,"s":40.23,"e":1.648e5},
   {"k":3,"l":9.35,"s":32.2,"e":3.376e7},{"k":3,"l":9.35,"s":32.4,"e":8.493e6},{"k":3,"l":9.35,"s":34.19,"e":2.241e6},{"k":3,"l":9.35,"s":40.5,"e":6.636e5},{"k":3,"l":9.35,"s":53.36,"e":2.186e5},
   {"k":4,"l":9.1,"s":38.6,"e":4.047e7},{"k":4,"l":9.1,"s":38.9,"e":1.02e7},{"k":4,"l":9.1,"s":41.08,"e":2.692e6},{"k":4,"l":9.1,"s":48.5,"e":7.946e5},{"k":4,"l":9.1,"s":66.22,"e":2.712e5},
   {"k":5,"l":8.9,"s":44.3,"e":4.645e7},{"k":5,"l":8.9,"s":44.7,"e":1.172e7},{"k":5,"l":8.9,"s":47.65,"e":3.123e6},{"k":5,"l":8.9,"s":57,"e":9.339e5},{"k":5,"l":8.9,"s":82.73,"e":3.389e5},
   {"k":6,"l":8.7,"s":48.8,"e":5.117e7},{"k":6,"l":8.7,"s":49.6,"e":1.3e7},{"k":6,"l":8.7,"s":53.02,"e":3.475e6},{"k":6,"l":8.7,"s":64.95,"e":1.064e6},{"k":6,"l":8.7,"s":106.9,"e":4.379e5},
   {"k":7,"l":8.5,"s":54.7,"e":5.736e7},{"k":7,"l":8.5,"s":55.8,"e":1.463e7},{"k":7,"l":8.5,"s":60.15,"e":3.942e6},{"k":7,"l":8.5,"s":77.55,"e":1.271e6},{"k":7,"l":8.5,"s":136.8,"e":5.603e5},
   {"k":8,"l":8.3,"s":59.45,"e":6.234e7},{"k":8,"l":8.3,"s":61.1,"e":1.602e7},{"k":8,"l":8.3,"s":67.69,"e":4.436e6},{"k":8,"l":8.3,"s":94.05,"e":1.541e6},{"k":8,"l":8.3,"s":185.4,"e":7.594e5},
   {"k":9,"l":8.1,"s":65.6,"e":6.879e7},{"k":9,"l":8.1,"s":67.9,"e":1.78e7},{"k":9,"l":8.1,"s":77.07,"e":5.051e6},{"k":9,"l":8.1,"s":113.7,"e":1.863e6},{"k":9,"l":8.1,"s":245.9,"e":1.007e6},
   {"k":10,"l":7.9,"s":74.86,"e":7.85e7},{"k":10,"l":7.9,"s":78.4,"e":2.055e7},{"k":10,"l":7.9,"s":92.56,"e":6.066e6},{"k":10,"l":7.9,"s":149.2,"e":2.445e6},{"k":10,"l":7.9,"s":367.3,"e":1.504e6},
   {"k":11,"l":7.7,"s":86.61,"e":9.082e7},{"k":11,"l":7.7,"s":92.04,"e":2.413e7},{"k":11,"l":7.7,"s":113.8,"e":7.458e6},{"k":11,"l":7.7,"s":200.7,"e":3.288e6},{"k":11,"l":7.7,"s":565.7,"e":2.317e6},
   {"k":12,"l":7.5,"s":102.6,"e":1.076e8},{"k":12,"l":7.5,"s":111.9,"e":2.933e7},{"k":12,"l":7.5,"s":149.3,"e":9.785e6},{"k":12,"l":7.5,"s":298.6,"e":4.892e6},{"k":12,"l":7.5,"s":962.1,"e":3.941e6},
   {"k":13,"l":7.3,"s":126.9,"e":1.331e8},{"k":13,"l":7.3,"s":143.4,"e":3.759e7},{"k":13,"l":7.3,"s":209.4,"e":1.372e7},{"k":13,"l":7.3,"s":473.4,"e":7.756e6},{"k":13,"l":7.3,"s":1584,"e":6.488e6},
   {"k":14,"l":7.1,"s":153.5,"e":1.61e8},{"k":14,"l":7.1,"s":181.8,"e":4.766e7},{"k":14,"l":7.1,"s":295.4,"e":1.936e7},{"k":14,"l":7.1,"s":749.6,"e":1.228e7},{"k":14,"l":7.1,"s":2719,"e":1.114e7},
   {"k":15,"l":6.9,"s":190.9,"e":2.002e8},{"k":15,"l":6.9,"s":229.6,"e":6.019e7},{"k":15,"l":6.9,"s":384.6,"e":2.521e7},{"k":15,"l":6.9,"s":1004,"e":1.645e7},{"k":15,"l":6.9,"s":3481,"e":1.426e7},
   {"k":16,"l":6.7,"s":235,"e":2.464e8},{"k":16,"l":6.7,"s":286,"e":7.497e7},{"k":16,"l":6.7,"s":490.1,"e":3.212e7},{"k":16,"l":6.7,"s":1306,"e":2.14e7},{"k":16,"l":6.7,"s":4503,"e":1.844e7},
   {"k":17,"l":6.5,"s":280.3,"e":2.939e8},{"k":17,"l":6.5,"s":343.7,"e":9.01e7},{"k":17,"l":6.5,"s":597.2,"e":3.914e7},{"k":17,"l":6.5,"s":1611,"e":2.64e7},{"k":17,"l":6.5,"s":5444,"e":2.23e7},
   {"k":18,"l":6.3,"s":324.9,"e":3.407e8},{"k":18,"l":6.3,"s":402.8,"e":1.056e8},{"k":18,"l":6.3,"s":714.5,"e":4.683e7},{"k":18,"l":6.3,"s":1961,"e":3.213e7},{"k":18,"l":6.3,"s":6685,"e":2.738e7},
   {"k":19,"l":6.1,"s":364.3,"e":3.82e8},{"k":19,"l":6.1,"s":454.4,"e":1.191e8},{"k":19,"l":6.1,"s":815.2,"e":5.342e7},{"k":19,"l":6.1,"s":2258,"e":3.7e7},{"k":19,"l":6.1,"s":7922,"e":3.245e7},
   {"k":20,"l":5.9,"s":407.7,"e":4.275e8},{"k":20,"l":5.9,"s":510.3,"e":1.338e8},{"k":20,"l":5.9,"s":920.2,"e":6.031e7},{"k":20,"l":5.9,"s":2560,"e":4.194e7},{"k":20,"l":5.9,"s":9016,"e":3.693e7},
   {"k":21,"l":5.7,"s":432.5,"e":4.535e8},{"k":21,"l":5.7,"s":556.8,"e":1.46e8},{"k":21,"l":5.7,"s":1054,"e":6.907e7},{"k":21,"l":5.7,"s":3042,"e":4.984e7},{"k":21,"l":5.7,"s":10954,"e":4.487e7},
   {"k":22,"l":5.5,"s":466.2,"e":4.888e8},{"k":22,"l":5.5,"s":623.3,"e":1.634e8},{"k":22,"l":5.5,"s":1252,"e":8.205e7},{"k":22,"l":5.5,"s":3765,"e":6.169e7},{"k":22,"l":5.5,"s":14322,"e":5.866e7},
   {"k":23,"l":5.3,"s":502.8,"e":5.272e8},{"k":23,"l":5.3,"s":712.1,"e":1.867e8},{"k":23,"l":5.3,"s":1549,"e":1.015e8},{"k":23,"l":5.3,"s":4898,"e":8.025e7},{"k":23,"l":5.3,"s":19815,"e":8.116e7},
   {"k":24,"l":5.1,"s":550.7,"e":5.775e8},{"k":24,"l":5.1,"s":821.8,"e":2.154e8},{"k":24,"l":5.1,"s":1906,"e":1.249e8},{"k":24,"l":5.1,"s":5818,"e":9.532e7},{"k":24,"l":5.1,"s":26120,"e":1.07e8},
   {"k":25,"l":4.9,"s":692.6,"e":7.263e8},{"k":25,"l":4.9,"s":1082.5,"e":2.838e8},{"k":25,"l":4.9,"s":2642,"e":1.731e8},{"k":25,"l":4.9,"s":7447,"e":1.22e8},{"k":25,"l":4.9,"s":40050,"e":1.64e8},
   {"k":26,"l":4.7,"s":889.5,"e":9.327e8},{"k":26,"l":4.7,"s":1333.5,"e":3.496e8},{"k":26,"l":4.7,"s":2556,"e":1.675e8},{"k":26,"l":4.7,"s":10214,"e":1.673e8},
   {"k":27,"l":4.5,"s":1111,"e":1.165e9},{"k":27,"l":4.5,"s":1705,"e":4.47e8},{"k":27,"l":4.5,"s":4082,"e":2.675e8},{"k":27,"l":4.5,"s":13587,"e":2.226e8},
   {"k":28,"l":4.3,"s":1532,"e":1.606e9},{"k":28,"l":4.3,"s":2456,"e":6.438e8},{"k":28,"l":4.3,"s":6152,"e":4.032e8},{"k":28,"l":4.3,"s":21080,"e":3.454e8},
   {"k":29,"l":4.1,"s":1978,"e":2.074e9},{"k":29,"l":4.1,"s":3420,"e":8.965e8},{"k":29,"l":4.1,"s":7925,"e":5.194e8},{"k":29,"l":4.1,"s":35240,"e":5.774e8},
   {"k":30,"l":3.9,"s":2689,"e":2.82e9},{"k":30,"l":3.9,"s":4688,"e":1.229e9},{"k":30,"l":3.9,"s":13596,"e":8.91e8},{"k":30,"l":3.9,"s":62660,"e":1.027e9},
   {"k":31,"l":3.7,"s":3760,"e":3.943e9},{"k":31,"l":3.7,"s":7077,"e":1.855e9},{"k":31,"l":3.7,"s":23335,"e":1.529e9},{"k":31,"l":3.7,"s":116150,"e":1.903e9},
   {"k":32,"l":3.5,"s":5906,"e":6.193e9},{"k":32,"l":3.5,"s":12587,"e":3.3e9},{"k":32,"l":3.5,"s":42850,"e":2.808e9},{"k":32,"l":3.5,"s":224400,"e":3.677e9},
   {"k":33,"l":3.3,"s":12470,"e":1.308e10},{"k":33,"l":3.3,"s":28700,"e":7.524e9},{"k":33,"l":3.3,"s":96070,"e":6.296e9},
   {"k":34,"l":3.1,"s":45580,"e":4.78e10},{"k":34,"l":3.1,"s":101100,"e":2.65e10},{"k":34,"l":3.1,"s":230500,"e":1.511e10}
  ]
 },
 "title": {"text": "for two different Transformer model sizes. These fits were used to measure Bcrit(L) for Figure 10.", "orient": "bottom", "anchor": "start", "font": "Liberation Serif", "fontSize": 53, "fontWeight": "normal", "color": "black", "offset": 8},
 "vconcat": [
  {
   "title": {"text": "These figures demonstrate fits to Equation (5.1) for a large number of values of the loss L, and", "orient": "bottom", "anchor": "start", "font": "Liberation Serif", "fontSize": 53, "fontWeight": "normal", "color": "black", "offset": -53, "dx": 277},
   "vconcat": [
    {
     "spacing": 50,
     "resolve": {"scale": {"color": "independent"}},
     "title": {"text": "Figure 18", "orient": "bottom", "anchor": "start", "font": "Liberation Serif", "fontSize": 53, "fontWeight": "bold", "color": "black", "offset": 45, "dx": -69},
     "hconcat": [
      {
       "width": 746, "height": 537,
       "title": {"text": "Batch Size Scan - 3M Params"},
       "resolve": {"axis": {"y": "independent"}},
       "layer": [
        {
         "data": {"name": "fitL"},
         "mark": {"type": "line", "strokeWidth": 1.5, "interpolate": "monotone", "clip": true},
         "encoding": {
          "x": {"field": "s", "type": "quantitative", "title": "Step", "scale": {"type": "log", "domain": [27.3, 730000], "nice": false},
           "axis": {"orient": "bottom", "title": "Step", "titlePadding": 14, "labelPadding": 6,
            "values": [30,40,50,60,70,80,90,100,200,300,400,500,600,700,800,900,1000,2000,3000,4000,5000,6000,7000,8000,9000,10000,20000,30000,40000,50000,60000,70000,80000,90000,100000,200000,300000,400000,500000,600000,700000],
            "tickSize": {"condition": {"test": "abs(log(datum.value)/LN10 - round(log(datum.value)/LN10)) < 0.001", "value": 8}, "value": 4},
            "labelExpr": "abs(log(datum.value)/LN10 - round(log(datum.value)/LN10)) < 0.001 ? '10' + ['\u2070','\u00b9','\u00b2','\u00b3','\u2074','\u2075','\u2076','\u2077','\u2078','\u2079','\u00b9\u2070','\u00b9\u00b9'][round(log(datum.value)/LN10)] : ''"}},
          "y": {"field": "e", "type": "quantitative", "scale": {"type": "log", "domain": [122000, 1.97e11], "nice": false},
           "axis": {"orient": "left", "title": "Tokens Processed", "titleFontSize": 39, "titlePadding": 12, "labelPadding": 8,
            "values": [200000,300000,400000,500000,600000,700000,800000,900000,1e6,2e6,3e6,4e6,5e6,6e6,7e6,8e6,9e6,1e7,2e7,3e7,4e7,5e7,6e7,7e7,8e7,9e7,1e8,2e8,3e8,4e8,5e8,6e8,7e8,8e8,9e8,1e9,2e9,3e9,4e9,5e9,6e9,7e9,8e9,9e9,1e10,2e10,3e10,4e10,5e10,6e10,7e10,8e10,9e10,1e11],
            "tickSize": {"condition": {"test": "abs(log(datum.value)/LN10 - round(log(datum.value)/LN10)) < 0.001", "value": 8}, "value": 4},
            "labelExpr": "abs(log(datum.value)/LN10 - round(log(datum.value)/LN10)) < 0.001 ? '10' + ['\u2070','\u00b9','\u00b2','\u00b3','\u2074','\u2075','\u2076','\u2077','\u2078','\u2079','\u00b9\u2070','\u00b9\u00b9'][round(log(datum.value)/LN10)] : ''"}},
          "color": {"field": "l", "type": "quantitative", "title": null, "scale": {"scheme": "viridis", "domain": [2.4, 10]}, "legend": {"type": "gradient", "values": [4, 6, 8, 10]}},
          "detail": {"field": "k"},
          "order": {"field": "s"}
         }
        },
        {
         "data": {"name": "ptsL"},
         "mark": {"type": "line", "strokeWidth": 3.5, "strokeDash": [3.5, 6.5], "clip": true},
         "encoding": {
          "x": {"field": "s", "type": "quantitative", "title": "Step"},
          "y": {"field": "e", "type": "quantitative", "axis": {"orient": "right", "title": "Test Loss", "titleFontSize": 39, "labels": false, "ticks": false, "domain": false, "titleAngle": 270, "titleBaseline": "top", "titlePadding": 149}},
          "color": {"field": "l", "type": "quantitative", "title": null, "legend": {"type": "gradient", "values": [4, 6, 8, 10]}},
          "detail": {"field": "k"},
          "order": {"field": "s"}
         }
        },
        {
         "data": {"name": "ptsL"},
         "mark": {"type": "circle", "size": 64, "opacity": 1, "clip": true},
         "encoding": {
          "x": {"field": "s", "type": "quantitative", "title": "Step"},
          "y": {"field": "e", "type": "quantitative", "axis": null},
          "fill": {"field": "l", "type": "quantitative", "title": null, "scale": {"scheme": "viridis", "domain": [2.4, 10]}, "legend": null}
         }
        }
       ]
      },
      {
       "width": 746, "height": 537,
       "title": {"text": "Batch Size Scan - 85M Params"},
       "resolve": {"axis": {"y": "independent"}},
       "layer": [
        {
         "data": {"name": "fitR"},
         "mark": {"type": "line", "strokeWidth": 1.5, "interpolate": "monotone", "clip": true},
         "encoding": {
          "x": {"field": "s", "type": "quantitative", "title": "Step", "scale": {"type": "log", "domain": [7.83, 783000], "nice": false},
           "axis": {"orient": "bottom", "title": "Step", "titlePadding": 14, "labelPadding": 6,
            "values": [8,9,10,20,30,40,50,60,70,80,90,100,200,300,400,500,600,700,800,900,1000,2000,3000,4000,5000,6000,7000,8000,9000,10000,20000,30000,40000,50000,60000,70000,80000,90000,100000,200000,300000,400000,500000,600000,700000],
            "tickSize": {"condition": {"test": "abs(log(datum.value)/LN10 - round(log(datum.value)/LN10)) < 0.001", "value": 8}, "value": 4},
            "labelExpr": "abs(log(datum.value)/LN10 - round(log(datum.value)/LN10)) < 0.001 ? '10' + ['\u2070','\u00b9','\u00b2','\u00b3','\u2074','\u2075','\u2076','\u2077','\u2078','\u2079','\u00b9\u2070','\u00b9\u00b9'][round(log(datum.value)/LN10)] : ''"}},
          "y": {"field": "e", "type": "quantitative", "scale": {"type": "log", "domain": [39800, 1.78e11], "nice": false},
           "axis": {"orient": "left", "title": "Tokens Processed", "titleFontSize": 39, "titlePadding": 12, "labelPadding": 8,
            "values": [1e6, 1e8, 1e10],
            "tickSize": 8,
            "labelExpr": "'10' + ['\u2070','\u00b9','\u00b2','\u00b3','\u2074','\u2075','\u2076','\u2077','\u2078','\u2079','\u00b9\u2070','\u00b9\u00b9'][round(log(datum.value)/LN10)]"}},
          "color": {"field": "l", "type": "quantitative", "title": null, "scale": {"scheme": "viridis", "domain": [2.4, 10]}, "legend": {"type": "gradient", "values": [4, 6, 8, 10]}},
          "detail": {"field": "k"},
          "order": {"field": "s"}
         }
        },
        {
         "data": {"name": "ptsR"},
         "mark": {"type": "line", "strokeWidth": 3.5, "strokeDash": [3.5, 6.5], "clip": true},
         "encoding": {
          "x": {"field": "s", "type": "quantitative", "title": "Step"},
          "y": {"field": "e", "type": "quantitative", "axis": {"orient": "right", "title": "Test Loss", "titleFontSize": 39, "labels": false, "ticks": false, "domain": false, "titleAngle": 270, "titleBaseline": "top", "titlePadding": 149}},
          "color": {"field": "l", "type": "quantitative", "title": null, "legend": {"type": "gradient", "values": [4, 6, 8, 10]}},
          "detail": {"field": "k"},
          "order": {"field": "s"}
         }
        },
        {
         "data": {"name": "ptsR"},
         "mark": {"type": "circle", "size": 64, "opacity": 1, "clip": true},
         "encoding": {
          "x": {"field": "s", "type": "quantitative", "title": "Step"},
          "y": {"field": "e", "type": "quantitative", "axis": null},
          "fill": {"field": "l", "type": "quantitative", "title": null, "scale": {"scheme": "viridis", "domain": [2.4, 10]}, "legend": null}
         }
        }
       ]
      }
     ]
    }
   ]
  }
 ]
}
